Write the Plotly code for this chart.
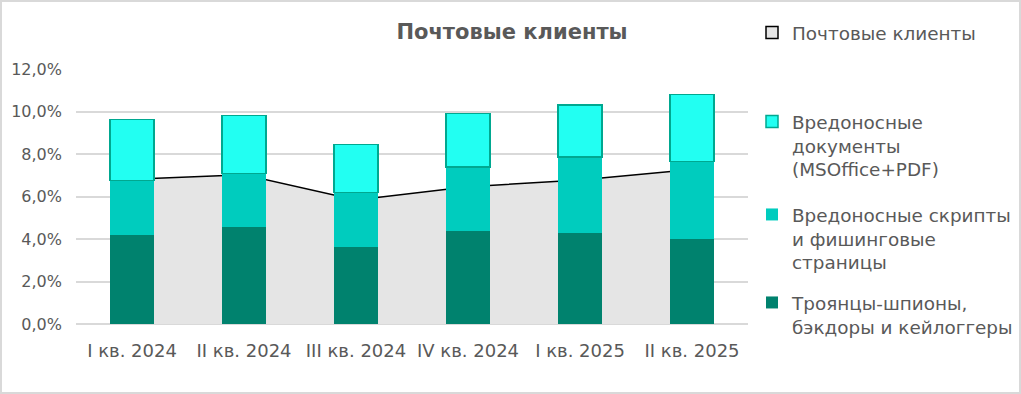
import plotly.graph_objects as go

categories = ["I кв. 2024", "II кв. 2024", "III кв. 2024", "IV кв. 2024", "I кв. 2025", "II кв. 2025"]
mail_clients = [6.81, 7.02, 5.84, 6.46, 6.78, 7.27]
trojans = [4.21, 4.55, 3.62, 4.40, 4.26, 3.98]
scripts = [2.54, 2.54, 2.56, 3.00, 3.61, 3.66]
documents = [2.87, 2.72, 2.27, 2.51, 2.44, 3.16]
y_ticks = [0, 2, 4, 6, 8, 10, 12]
y_tick_text = [f"{v:.1f}".replace(".", ",") + "%" for v in y_ticks]

FONT = "DejaVu Sans"
TXT = "#595959"

fig = go.Figure()
fig.add_trace(go.Scatter(
    x=categories, y=mail_clients, name="Почтовые клиенты", mode="lines",
    fill="tozeroy", fillcolor="#E5E5E5", line=dict(color="black", width=1.5),
    showlegend=False, xaxis="x", yaxis="y"))
# legend entry for the area series (square swatch, as in the original)
fig.add_trace(go.Bar(
    x=[None], y=[None], name="Почтовые клиенты",
    marker=dict(color="#E5E5E5", line=dict(color="black", width=1.5)),
    legend="legend", showlegend=True, xaxis="x2", yaxis="y2"))
fig.add_trace(go.Bar(
    x=categories, y=trojans, name="Троянцы-шпионы,<br>бэкдоры и кейлоггеры",
    marker=dict(color="#00826E", line=dict(width=0)), legend="legend4", showlegend=True, xaxis="x2", yaxis="y2"))
fig.add_trace(go.Bar(
    x=categories, y=scripts, name="Вредоносные скрипты<br>и фишинговые<br>страницы",
    marker=dict(color="#00CCBE", line=dict(width=0)), legend="legend3", showlegend=True, xaxis="x2", yaxis="y2"))
fig.add_trace(go.Bar(
    x=categories, y=documents, name="Вредоносные<br>документы<br>(MSOffice+PDF)",
    marker=dict(color="#22FFF2", line=dict(color="#00A890", width=1.5)), legend="legend2", showlegend=True,
    xaxis="x2", yaxis="y2"))

W, H = 1021, 394
L, R, T, B = 76, 273, 69, 70
pw, ph = W - L - R, H - T - B

def px(x):
    return (x - L) / pw

def py(y):
    return (H - B - y) / ph

def cx(x):
    return x / W

def cy(y):
    return 1 - y / H

leg_common = dict(font=dict(family=FONT, size=18.4, color=TXT), bgcolor="rgba(0,0,0,0)",
                  xref="container", yref="container",
                  xanchor="left", yanchor="top", valign="top", itemwidth=30, tracegroupgap=0)

LX = 752
fig.update_layout(
    width=W, height=H,
    margin=dict(l=L, r=R, t=T, b=B, autoexpand=False),
    plot_bgcolor="white", paper_bgcolor="white",
    showlegend=True,
    barmode="stack", bargap=0.607,
    title=dict(text="<b>Почтовые клиенты</b>", xref="container", x=512 / W, xanchor="center",
               yref="container", y=1 - 32 / H, yanchor="middle",
               font=dict(family=FONT, size=21, color=TXT)),
    font=dict(family=FONT, size=17, color=TXT),
    xaxis=dict(type="category", categoryarray=categories, range=[-0.5, 5.5], showgrid=False,
               showline=False, ticks="", ticklabelstandoff=14,
               tickfont=dict(family=FONT, size=18, color=TXT)),
    yaxis=dict(range=[0, 12], tickmode="array", tickvals=y_ticks, ticktext=y_tick_text, showgrid=True,
               gridcolor="#D9D9D9", gridwidth=1.5, zeroline=True, zerolinecolor="#D9D9D9", zerolinewidth=1.5,
               showline=False, ticks="", ticklabelstandoff=13,
               tickfont=dict(family=FONT, size=16, color=TXT)),
    xaxis2=dict(type="category", categoryarray=categories, range=[-0.5, 5.5], overlaying="x",
                showgrid=False, showticklabels=False, showline=False, ticks=""),
    yaxis2=dict(range=[0, 12], overlaying="y", showgrid=False, showticklabels=False, zeroline=False,
                showline=False, ticks=""),
    legend=dict(x=cx(LX), y=cy(14), **leg_common),
    legend2=dict(x=cx(LX), y=cy(103), **leg_common),
    legend3=dict(x=cx(LX), y=cy(196), **leg_common),
    legend4=dict(x=cx(LX), y=cy(284), **leg_common),
    shapes=[dict(type="rect", xref="paper", yref="paper", x0=px(1), x1=px(W - 1), y0=py(H - 1), y1=py(1),
                 line=dict(color="#D9D9D9", width=2), layer="below")],
)

fig.write_html("out.html", config={"displayModeBar": False},
               post_script="document.body.style.margin='0px';")
